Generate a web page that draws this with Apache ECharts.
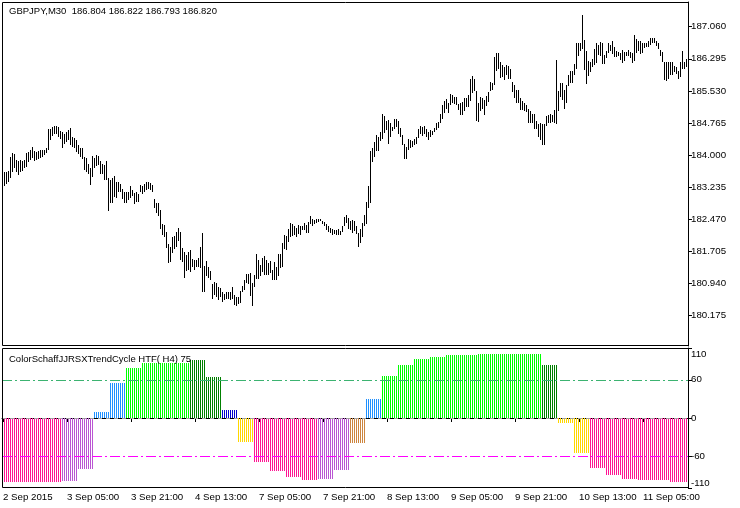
<!DOCTYPE html>
<html>
<head>
<meta charset="utf-8">
<script src="https://cdn.jsdelivr.net/npm/echarts@6/dist/echarts.min.js"></script>
<style>
html,body{margin:0;padding:0;background:#fff;}
#c{width:740px;height:508px;}
</style>
</head>
<body>
<div id="c"></div>
<script>
// ---- data ----
const startTime = Date.UTC(2015, 8, 2, 13, 0); // first M30 bar
const highs = [183.54,183.59,183.61,183.62,183.96,184.04,184.02,183.89,183.85,183.88,183.85,183.89,184.05,184.07,184.13,184.20,184.10,184.07,184.10,184.12,
184.13,184.13,184.16,184.62,184.62,184.67,184.69,184.70,184.67,184.58,184.56,184.51,184.54,184.61,184.64,184.43,184.42,184.35,184.24,184.16,
184.16,183.96,183.93,183.80,183.69,183.99,183.94,184.00,183.97,183.85,183.80,183.77,183.86,183.46,183.40,183.45,183.50,183.37,183.37,183.32,
183.19,183.13,183.12,183.13,183.26,183.16,183.10,183.12,183.07,183.29,183.26,183.31,183.35,183.37,183.34,183.29,182.96,182.85,182.86,182.70,
182.37,182.34,182.18,181.89,181.81,182.04,182.07,182.18,182.27,182.18,181.78,181.70,181.62,181.70,181.73,181.53,181.50,181.51,181.54,181.80,
182.15,181.37,181.48,181.34,181.24,180.94,180.97,180.96,180.86,180.83,180.73,180.70,180.75,180.75,180.74,180.85,180.66,180.63,180.63,180.76,
180.88,181.03,181.17,181.17,181.20,180.95,181.14,181.65,181.49,181.38,181.55,181.60,181.50,181.44,181.47,181.27,181.46,181.33,181.65,181.65,
181.90,182.09,182.08,182.25,182.38,182.36,182.31,182.27,182.33,182.30,182.31,182.38,182.33,182.41,182.54,182.49,182.46,182.49,182.47,182.49,
182.44,182.41,182.35,182.31,182.27,182.25,182.22,182.22,182.23,182.20,182.30,182.52,182.58,182.50,182.44,182.46,182.42,182.31,182.14,182.25,
182.38,182.57,182.88,183.27,184.11,184.17,184.31,184.47,184.43,184.54,184.98,184.93,184.81,184.84,184.76,184.66,184.85,184.87,184.82,184.65,
184.49,184.27,184.20,184.39,184.35,184.33,184.38,184.43,184.62,184.70,184.68,184.70,184.63,184.55,184.60,184.58,184.65,184.77,184.79,184.97,
185.20,185.30,185.33,185.25,185.46,185.43,185.38,185.39,185.22,185.24,185.27,185.36,185.35,185.43,185.81,185.89,185.81,185.52,185.24,185.38,
185.36,185.31,185.41,185.51,185.74,185.73,186.33,186.43,186.43,186.22,186.14,186.11,186.14,186.12,186.06,185.74,185.66,185.55,185.55,185.35,
185.28,185.25,185.20,185.09,185.04,184.97,184.97,184.82,184.73,184.76,184.73,184.74,184.93,184.95,184.98,184.95,185.08,186.27,185.52,185.73,
185.73,185.55,185.68,185.90,186.01,186.01,186.17,186.66,186.66,186.66,187.35,186.74,186.47,186.24,186.22,186.30,186.52,186.66,186.63,186.70,
186.68,186.38,186.47,186.66,186.63,186.73,186.57,186.47,186.46,186.43,186.51,186.46,186.46,186.51,186.46,186.43,186.87,186.76,186.73,186.73,
186.66,186.66,186.68,186.71,186.78,186.79,186.79,186.71,186.66,186.51,186.46,186.22,186.22,186.22,186.22,186.22,186.12,186.09,186.00,186.22,
186.47,186.22,186.30];
const lows = [183.21,183.27,183.32,183.37,183.45,183.61,183.69,183.59,183.53,183.59,183.62,183.69,183.72,183.83,183.88,183.93,183.86,183.89,183.91,183.93,
183.96,184.00,184.04,184.13,184.37,184.45,184.50,184.51,184.43,184.39,184.18,184.26,184.32,184.35,184.23,184.20,184.16,184.07,184.02,183.96,
183.91,183.64,183.59,183.54,183.29,183.48,183.69,183.73,183.77,183.56,183.54,183.40,183.40,182.67,182.86,182.85,183.00,182.99,183.12,183.12,
182.96,182.85,182.85,182.92,182.99,183.02,182.83,182.89,182.89,183.12,183.08,183.13,183.16,183.19,183.18,183.12,182.73,182.62,182.54,182.24,
182.10,182.05,181.78,181.43,181.46,181.67,181.77,181.81,181.96,181.50,181.46,181.08,181.23,181.27,181.21,181.34,181.26,181.34,181.34,181.32,
180.73,180.73,181.11,181.07,181.02,180.57,180.67,180.61,180.54,180.61,180.50,180.54,180.57,180.57,180.55,180.58,180.42,180.41,180.46,180.47,
180.73,180.79,180.95,180.92,180.65,180.41,180.87,181.04,181.04,181.11,181.22,181.15,181.14,181.14,181.20,181.03,181.03,181.03,181.11,181.31,
181.33,181.76,181.74,181.92,182.04,182.08,182.09,182.06,182.12,182.09,182.22,182.22,182.15,182.14,182.36,182.30,182.36,182.39,182.41,182.42,
182.35,182.30,182.22,182.17,182.15,182.09,182.12,182.09,182.09,182.09,182.17,182.31,182.39,182.25,182.22,182.15,182.20,182.11,181.82,181.90,
182.06,182.30,182.36,182.73,182.85,183.84,183.96,184.11,184.11,184.33,184.39,184.52,184.60,184.27,184.44,184.57,184.62,184.66,184.50,184.43,
184.23,183.90,183.90,184.12,184.16,184.20,184.23,184.27,184.41,184.50,184.46,184.50,184.43,184.35,184.43,184.49,184.55,184.60,184.65,184.76,
184.87,185.01,185.11,185.00,185.19,185.24,185.22,185.19,185.08,184.95,184.95,185.06,185.14,185.14,185.30,185.49,185.52,184.81,184.79,185.06,
185.09,184.95,185.16,185.27,185.52,185.55,185.68,186.00,186.05,185.84,185.85,185.79,185.90,185.82,185.82,185.51,185.36,185.25,185.24,185.08,
185.08,185.06,185.03,184.77,184.76,184.76,184.63,184.62,184.43,184.36,184.25,184.25,184.70,184.76,184.76,184.79,184.76,184.73,185.06,185.39,
185.31,185.09,185.24,185.65,185.71,185.71,185.90,186.06,186.35,186.47,186.52,186.03,185.70,185.89,185.98,186.09,186.14,186.20,186.38,186.36,
186.17,186.16,186.32,186.43,186.49,186.41,186.33,186.33,186.35,186.27,186.19,186.25,186.35,186.36,186.32,186.19,186.25,186.43,186.47,186.41,
186.43,186.55,186.57,186.57,186.63,186.68,186.66,186.60,186.52,186.36,186.22,185.78,185.76,185.81,185.90,185.90,185.97,185.93,185.81,185.87,
186.06,186.05,186.10];
// indicator: one value per H4 bar (first H4 bar is partial: 6 M30 bars)
const h4Values = [-100,-100,-100,-100,-98.5,-80,10,55,78,87,87,87,90.5,65,13,-37,-68.5,-84,-92,-97,-95.4,-81,-38.5,30.5,
65.7,83,92,95.7,98.8,99.4,100.4,100,100,100,83,-8.5,-55,-78,-89.5,-95.4,-97,-98,-100,-100];
const h4Colors = ['P','P','P','P','O','O','D','D','L','L','L','L','G','G','B','Y','P','P','P','P','O','O','R','D',
'L','L','L','L','L','L','L','L','L','L','G','Y','Y','P','P','P','P','P','P','P'];
const palette = {P:'#FF1493', O:'#BA55D3', D:'#1E90FF', L:'#00FF00', G:'#008000', B:'#0000CD', Y:'#FFD700', R:'#CD853F'};
const priceTicks = [180.175,180.940,181.705,182.470,183.235,184.000,184.765,185.530,186.295,187.060];
const levelTicks = [-110,-60,0,60,110];
const levels = [60,-60];
const headerText = 'GBPJPY,M30  186.804 186.822 186.793 186.820';
const indicatorText = 'ColorSchaffJJRSXTrendCycle HTF( H4) 75';

// ---- build ----
const MON = ['Jan','Feb','Mar','Apr','May','Jun','Jul','Aug','Sep','Oct','Nov','Dec'];
const times = [];
let t = startTime;
while (times.length < highs.length) {
  const d = new Date(t);
  const wd = d.getUTCDay();
  if (wd !== 0 && wd !== 6) times.push(t);
  t += 30 * 60 * 1000;
}
function pad(n){return (n<10?'0':'')+n;}
function fmtTime(ts, idx){
  const d = new Date(ts);
  if (idx === 0) return d.getUTCDate()+' '+MON[d.getUTCMonth()]+' '+d.getUTCFullYear();
  return d.getUTCDate()+' '+MON[d.getUTCMonth()]+' '+pad(d.getUTCHours())+':'+pad(d.getUTCMinutes());
}
const cats = times.map(String);
const ohlc = highs.map((h,i)=>[i, lows[i], h]);
const hist = highs.map((h,i)=>{
  const s = i < 6 ? 0 : 1 + Math.floor((i-6)/8);
  return {value:[i, h4Values[s]], itemStyle:{color: palette[h4Colors[s]]}};
});

const FONT = 'Liberation Sans';
const chart = echarts.init(document.getElementById('c'), null, {renderer:'canvas'});
chart.setOption({
  animation:false,
  backgroundColor:'#fff',
  textStyle:{fontFamily:FONT},
  title:[
    {text:headerText, left:4, top:1, z:50, textStyle:{fontSize:9.5, fontWeight:'normal', color:'#000', fontFamily:FONT}},
    {text:indicatorText, left:4, top:349, z:50, textStyle:{fontSize:9.5, fontWeight:'normal', color:'#000', fontFamily:FONT}}
  ],
  grid:[
    {left:2, top:2, width:686, height:344},
    {left:2, top:348, width:686, height:140}
  ],
  xAxis:[
    {type:'category', gridIndex:0, data:cats, boundaryGap:true, axisLine:{show:false}, axisTick:{show:false}, axisLabel:{show:false}, splitLine:{show:false}},
    {type:'category', gridIndex:1, data:cats, boundaryGap:true,
     axisLine:{show:true, lineStyle:{color:'#000'}},
     axisTick:{show:true, alignWithLabel:true, length:4, interval:(i)=> i%32===0, lineStyle:{color:'#000'}},
     axisLabel:{show:true, interval:(i)=> i%32===0, align:'left', margin:4, fontSize:9.7, color:'#000', fontFamily:FONT,
       formatter:(v, idx)=> fmtTime(Number(v), idx)},
     splitLine:{show:false}}
  ],
  yAxis:[
    {type:'value', gridIndex:0, position:'right', min:179.453, max:187.648, scale:true,
     axisLine:{show:true, lineStyle:{color:'#000'}},
     axisTick:{show:true, length:4, customValues:priceTicks, lineStyle:{color:'#000'}},
     axisLabel:{show:true, customValues:priceTicks, margin:3, fontSize:9.7, color:'#000', fontFamily:FONT, formatter:(v)=>Number(v).toFixed(3)},
     splitLine:{show:false}},
    {type:'value', gridIndex:1, position:'right', min:-110, max:110,
     axisLine:{show:true, lineStyle:{color:'#000'}},
     axisTick:{show:true, length:4, customValues:levelTicks, lineStyle:{color:'#000'}},
     axisLabel:{show:true, customValues:levelTicks, margin:3, fontSize:9.7, color:'#000', fontFamily:FONT,
       formatter:(v)=> v===110 ? '{t|110}' : (v===-110 ? '{b|-110}' : String(v)),
       rich:{t:{fontSize:9.7, fontFamily:FONT, color:'#000', padding:[12,0,0,0]}, b:{fontSize:9.7, fontFamily:FONT, color:'#000', padding:[0,0,10,0]}}},
     splitLine:{show:false}}
  ],
  graphic:[
    {type:'rect', silent:true, z:100, shape:{x:2.5, y:2.5, width:686, height:343}, style:{fill:'none', stroke:'#000', lineWidth:1}},
    {type:'rect', silent:true, z:100, shape:{x:2.5, y:348.5, width:686, height:139}, style:{fill:'none', stroke:'#000', lineWidth:1}}
  ],
  series:[
    {type:'custom', xAxisIndex:0, yAxisIndex:0, data:ohlc, silent:true,
     renderItem:(params, api)=>{
       const i = api.value(0);
       const lo = api.coord([i, api.value(1)]);
       const hi = api.coord([i, api.value(2)]);
       const x = Math.round(lo[0]) - 0.5;
       return {type:'line', shape:{x1:x, y1:Math.round(lo[1]), x2:x, y2:Math.round(hi[1])}, style:{stroke:'#000', lineWidth:1}};
     }},
    {type:'custom', xAxisIndex:1, yAxisIndex:1, data:hist, silent:true,
     renderItem:(params, api)=>{
       const i = api.value(0);
       const z0 = api.coord([i, 0]);
       const v = api.coord([i, api.value(1)]);
       const x = Math.round(z0[0]) - 0.5;
       return {type:'line', shape:{x1:x, y1:Math.round(z0[1]), x2:x, y2:Math.round(v[1])}, style:{stroke:api.visual('color'), lineWidth:1}};
     },
     markLine:{silent:true, symbol:['none','none'], label:{show:false}, animation:false,
       data:[
         {yAxis:0, lineStyle:{color:'#A0A0A0', type:[4,4], width:1}},
         {yAxis:levels[0], lineStyle:{color:'#3CB371', type:[10,3,2,3], width:1}},
         {yAxis:levels[1], lineStyle:{color:'#FF00FF', type:[10,3,2,3], width:1}}
       ]}}
  ]
});
</script>
</body>
</html>
